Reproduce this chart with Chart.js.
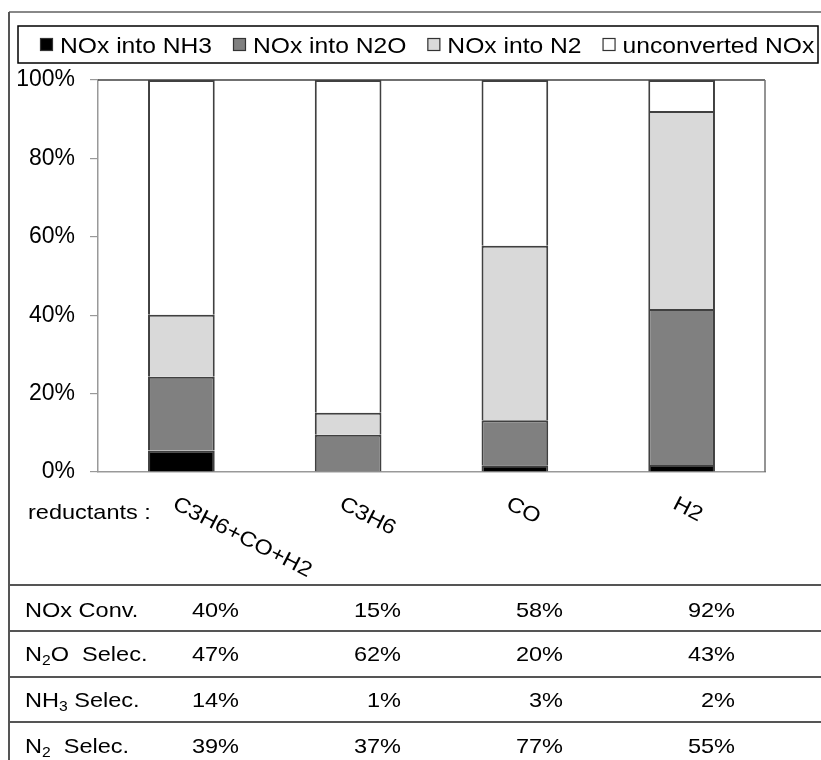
<!DOCTYPE html>
<html>
<head>
<meta charset="utf-8">
<script src="https://cdn.jsdelivr.net/npm/chart.js@4.4.0/dist/chart.umd.min.js"></script>
<style>
  html, body { margin: 0; padding: 0; background: #fff; }
  canvas { display: block; }
</style>
</head>
<body>
<canvas id="reductantChart" width="821" height="760"></canvas>
<script>
// Kategorien und Anteile (in % der NOx am Eingang)
var reductants = ['C3H6+CO+H2', 'C3H6', 'CO', 'H2'];
var series_labels = ['NOx into NH3', 'NOx into N2O', 'NOx into N2', 'unconverted NOx'];
var nox_into_nh3 = [5.5, 0.2, 1.7, 1.8];
var nox_into_n2o = [18.8, 9.3, 11.5, 39.8];
var nox_into_n2 = [15.8, 5.6, 44.5, 50.5];
var nox_unconverted = [59.9, 84.9, 42.3, 7.9];
var y_ticks = [0, 20, 40, 60, 80, 100];

// Tabelle unter dem Diagramm
var nox_conv = ['40%', '15%', '58%', '92%'];
var n2o_selec = ['47%', '62%', '20%', '43%'];
var nh3_selec = ['14%', '1%', '3%', '2%'];
var n2_selec = ['39%', '37%', '77%', '55%'];

var series_colors = ['#000000', '#808080', '#d9d9d9', '#ffffff'];
var font_family = '"Liberation Sans", Arial, sans-serif';
var stretch = 1.12;  // Schrift im Original ist etwas breit gezogen

// Zeilen: Beschriftung in Teilen [text, tiefgestellt], dann Werte
var table_rows = [
    { parts: [['NOx Conv.', false]], values: nox_conv },
    { parts: [['N', false], ['2', true], ['O  Selec.', false]], values: n2o_selec },
    { parts: [['NH', false], ['3', true], [' Selec.', false]], values: nh3_selec },
    { parts: [['N', false], ['2', true], ['  Selec.', false]], values: n2_selec }
];
var row_baselines = [617, 661, 707, 753];
var row_lines = [585, 631, 677, 722];
var column_right = [239, 401, 563, 735];

function setFont(ctx, size) {
    ctx.font = size + 'px ' + font_family;
}

function drawText(ctx, text, x, y, size, align) {
    ctx.save();
    setFont(ctx, size);
    ctx.textAlign = align || 'left';
    ctx.textBaseline = 'alphabetic';
    ctx.fillStyle = '#000';
    ctx.translate(x, y);
    ctx.scale(stretch, 1);
    ctx.fillText(text, 0, 0);
    ctx.restore();
}

function textWidth(ctx, text, size) {
    ctx.save();
    setFont(ctx, size);
    var w = ctx.measureText(text).width * stretch;
    ctx.restore();
    return w;
}

function line(ctx, x1, y1, x2, y2, color, width) {
    ctx.save();
    ctx.strokeStyle = color;
    ctx.lineWidth = width;
    ctx.beginPath();
    ctx.moveTo(x1, y1);
    ctx.lineTo(x2, y2);
    ctx.stroke();
    ctx.restore();
}

var decorPlugin = {
    id: 'decor',
    afterDatasetsDraw: function(chart) {
        var ctx = chart.ctx;
        var area = chart.chartArea;
        // Rahmen oben und rechts um die Zeichenfläche
        line(ctx, area.left, area.top, area.right, area.top, '#404040', 1.5);
        line(ctx, area.right, area.top, area.right, area.bottom, '#707070', 1.5);
    },
    afterDraw: function(chart) {
        var ctx = chart.ctx;
        var xScale = chart.scales.x;

        // äußerer Rahmen
        line(ctx, 9, 12, chart.width, 12, '#888', 2);
        line(ctx, 9, 12, 9, chart.height, '#555', 2);

        // Legende
        ctx.save();
        ctx.strokeStyle = '#000';
        ctx.lineWidth = 1.5;
        ctx.strokeRect(18, 26, 800, 37);
        ctx.restore();
        var lx = 40;
        chart.data.datasets.forEach(function(ds) {
            ctx.save();
            ctx.fillStyle = ds.backgroundColor;
            ctx.fillRect(lx, 38, 13, 13);
            ctx.strokeStyle = '#333';
            ctx.lineWidth = 1.2;
            ctx.strokeRect(lx + 0.5, 38.5, 12, 12);
            ctx.restore();
            drawText(ctx, ds.label, lx + 20, 53, 22);
            lx += 20 + textWidth(ctx, ds.label, 22) + 21;
        });

        // Kategorien, schräg nach rechts unten
        drawText(ctx, 'reductants :', 28, 519, 21);
        chart.data.labels.forEach(function(label, i) {
            var x = xScale.getPixelForValue(i) - 10;
            ctx.save();
            ctx.translate(x, 508);
            ctx.rotate(27 * Math.PI / 180);
            drawText(ctx, label, 0, 0, 21);
            ctx.restore();
        });

        // Tabelle
        row_lines.forEach(function(y) {
            line(ctx, 9, y, chart.width, y, '#555', 2);
        });
        table_rows.forEach(function(row, r) {
            var y = row_baselines[r];
            var x = 25;
            row.parts.forEach(function(part) {
                var size = part[1] ? 14 : 21;
                drawText(ctx, part[0], x, part[1] ? y + 4 : y, size);
                x += textWidth(ctx, part[0], size);
            });
            row.values.forEach(function(v, c) {
                drawText(ctx, v, column_right[c], y, 21, 'right');
            });
        });
    }
};

var datasets = [nox_into_nh3, nox_into_n2o, nox_into_n2, nox_unconverted].map(function(values, i) {
    return {
        label: series_labels[i],
        data: values,
        backgroundColor: series_colors[i],
        borderColor: '#404040',
        borderWidth: 2,
        barPercentage: 0.4,
        categoryPercentage: 1.0
    };
});

var reductantChart = new Chart(document.getElementById('reductantChart').getContext('2d'), {
    type: 'bar',
    data: {
        labels: reductants,
        datasets: datasets
    },
    options: {
        responsive: false,
        animation: false,
        events: [],
        layout: { padding: { top: 80, right: 56, left: 0, bottom: 0 } },
        plugins: {
            legend: { display: false },
            tooltip: { enabled: false }
        },
        scales: {
            x: {
                stacked: true,
                grid: { display: false },
                border: { display: true, color: '#999', width: 1.5 },
                ticks: { display: false },
                afterFit: function(scale) { scale.height = 288; }
            },
            y: {
                stacked: true,
                min: 0,
                max: 100,
                afterBuildTicks: function(scale) {
                    scale.ticks = y_ticks.map(function(v) { return { value: v }; });
                },
                grid: { drawOnChartArea: false, drawTicks: true, tickLength: 8, color: '#999', lineWidth: 1.2 },
                border: { display: true, color: '#999', width: 1.5 },
                ticks: {
                    padding: 15,
                    color: '#000',
                    font: { family: font_family, size: 23 },
                    callback: function(v) { return v + '%'; }
                },
                afterFit: function(scale) { scale.width = 98; }
            }
        }
    },
    plugins: [decorPlugin]
});
</script>
</body>
</html>
